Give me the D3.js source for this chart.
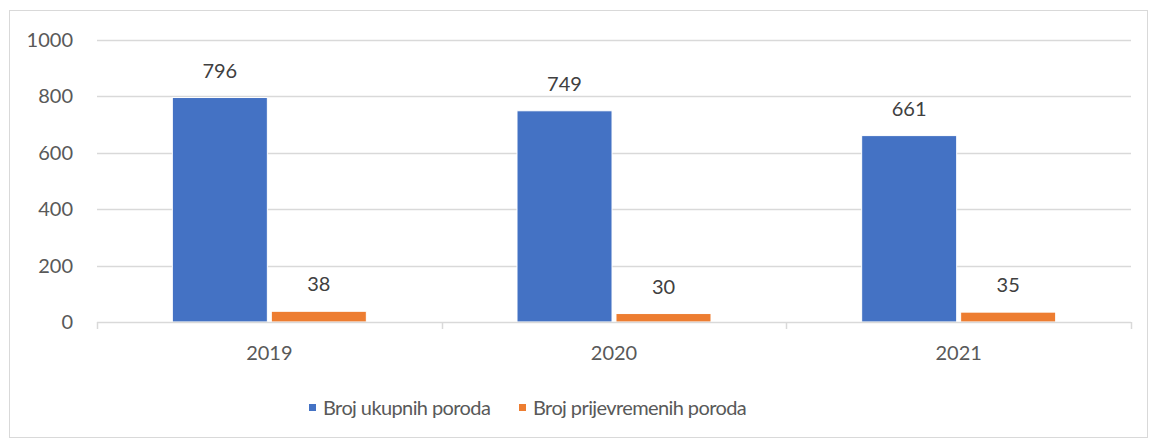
<!DOCTYPE html>
<html>
<head>
<meta charset="utf-8">
<script src="https://cdn.jsdelivr.net/npm/d3@7"></script>
<style>
  body { margin: 0; background: #fff; }
  text { font-family: Lato, "Open Sans", sans-serif; fill: #595959; }
</style>
</head>
<body>
<svg id="chart"></svg>
<script>
(function (d3) {
    "use strict";

    // Données
    const years = ["2019", "2020", "2021"];
    const seriesNames = ["Broj ukupnih poroda", "Broj prijevremenih poroda"];
    const ukupni = [796, 749, 661];
    const prijevremeni = [38, 30, 35];
    const yTicks = [0, 200, 400, 600, 800, 1000];
    const colors = ["#4472C4", "#ED7D31"];

    const width = 1151, height = 439;
    const plot = { left: 97, right: 1131, top: 40, bottom: 322 };
    const fontSize = 20;

    const svg = d3.select("#chart").attr("width", width).attr("height", height);

    // cadre du graphique
    svg.append("rect")
        .attr("x", 9.5).attr("y", 10.5)
        .attr("width", 1138).attr("height", 427)
        .attr("fill", "none").attr("stroke", "#d9d9d9");

    const x = d3.scaleBand().domain(years).range([plot.left, plot.right]).paddingInner(0).paddingOuter(0);
    const y = d3.scaleLinear().domain([0, 1000]).range([plot.bottom, plot.top]);
    const xSub = d3.scaleBand().domain([0, 1]).range([0, 194]).paddingInner(0.04);

    // grille
    svg.append("g").selectAll("line").data(yTicks.slice(1)).join("line")
        .attr("x1", plot.left).attr("x2", plot.right)
        .attr("y1", d => Math.round(y(d)) + 0.5).attr("y2", d => Math.round(y(d)) + 0.5)
        .attr("stroke", "#d9d9d9").attr("stroke-width", 1.5);

    // axe Y (étiquettes seulement)
    const yAxis = svg.append("g")
        .attr("transform", "translate(" + plot.left + ",0)")
        .call(d3.axisLeft(y).tickValues(yTicks).tickFormat(d3.format("d")).tickSize(0).tickPadding(24));
    yAxis.select(".domain").remove();
    yAxis.selectAll("text")
        .style("font-family", "Lato, sans-serif")
        .attr("font-size", fontSize).attr("fill", "#595959").attr("dy", "0.32em");

    // barres
    const series = [ukupni, prijevremeni];
    series.forEach((vals, s) => {
        const g = svg.append("g");
        g.selectAll("rect").data(vals).join("rect")
            .attr("x", (d, i) => x(years[i]) + x.bandwidth() / 2 - 97 + xSub(s))
            .attr("width", xSub.bandwidth())
            .attr("y", d => y(d))
            .attr("height", d => y(0) - y(d))
            .attr("fill", colors[s])
            .attr("stroke", "#fff").attr("stroke-width", 1);
        g.selectAll("text").data(vals).join("text")
            .attr("x", (d, i) => x(years[i]) + x.bandwidth() / 2 - 97 + xSub(s) + xSub.bandwidth() / 2)
            .attr("y", d => y(d) - 20)
            .attr("text-anchor", "middle")
            .attr("font-size", fontSize)
            .style("fill", "#404040")
            .text(d => d);
    });

    // axe X
    const xAxis = svg.append("g")
        .attr("transform", "translate(0," + plot.bottom + ")")
        .call(d3.axisBottom(x).tickSize(0).tickPadding(24));
    xAxis.select(".domain").remove();
    xAxis.selectAll("text")
        .style("font-family", "Lato, sans-serif")
        .attr("font-size", fontSize).attr("fill", "#595959");
    svg.append("line")
        .attr("x1", plot.left).attr("x2", plot.right)
        .attr("y1", plot.bottom + 0.5).attr("y2", plot.bottom + 0.5)
        .attr("stroke", "#d9d9d9").attr("stroke-width", 1.5);
    const bounds = years.map(yr => x(yr)).concat([plot.right]);
    svg.append("g").selectAll("line").data(bounds).join("line")
        .attr("x1", d => Math.round(d) + 0.5).attr("x2", d => Math.round(d) + 0.5)
        .attr("y1", plot.bottom).attr("y2", plot.bottom + 7)
        .attr("stroke", "#d9d9d9").attr("stroke-width", 1.5);

    // légende
    const legendX = [309, 519];
    const legend = svg.append("g");
    seriesNames.forEach((name, i) => {
        legend.append("rect")
            .attr("x", legendX[i]).attr("y", 404)
            .attr("width", 7).attr("height", 7)
            .attr("fill", colors[i]);
        legend.append("text")
            .attr("x", legendX[i] + 14).attr("y", 415)
            .attr("font-size", fontSize)
            .attr("letter-spacing", -0.6)
            .text(name);
    });
})(d3);
</script>
</body>
</html>
